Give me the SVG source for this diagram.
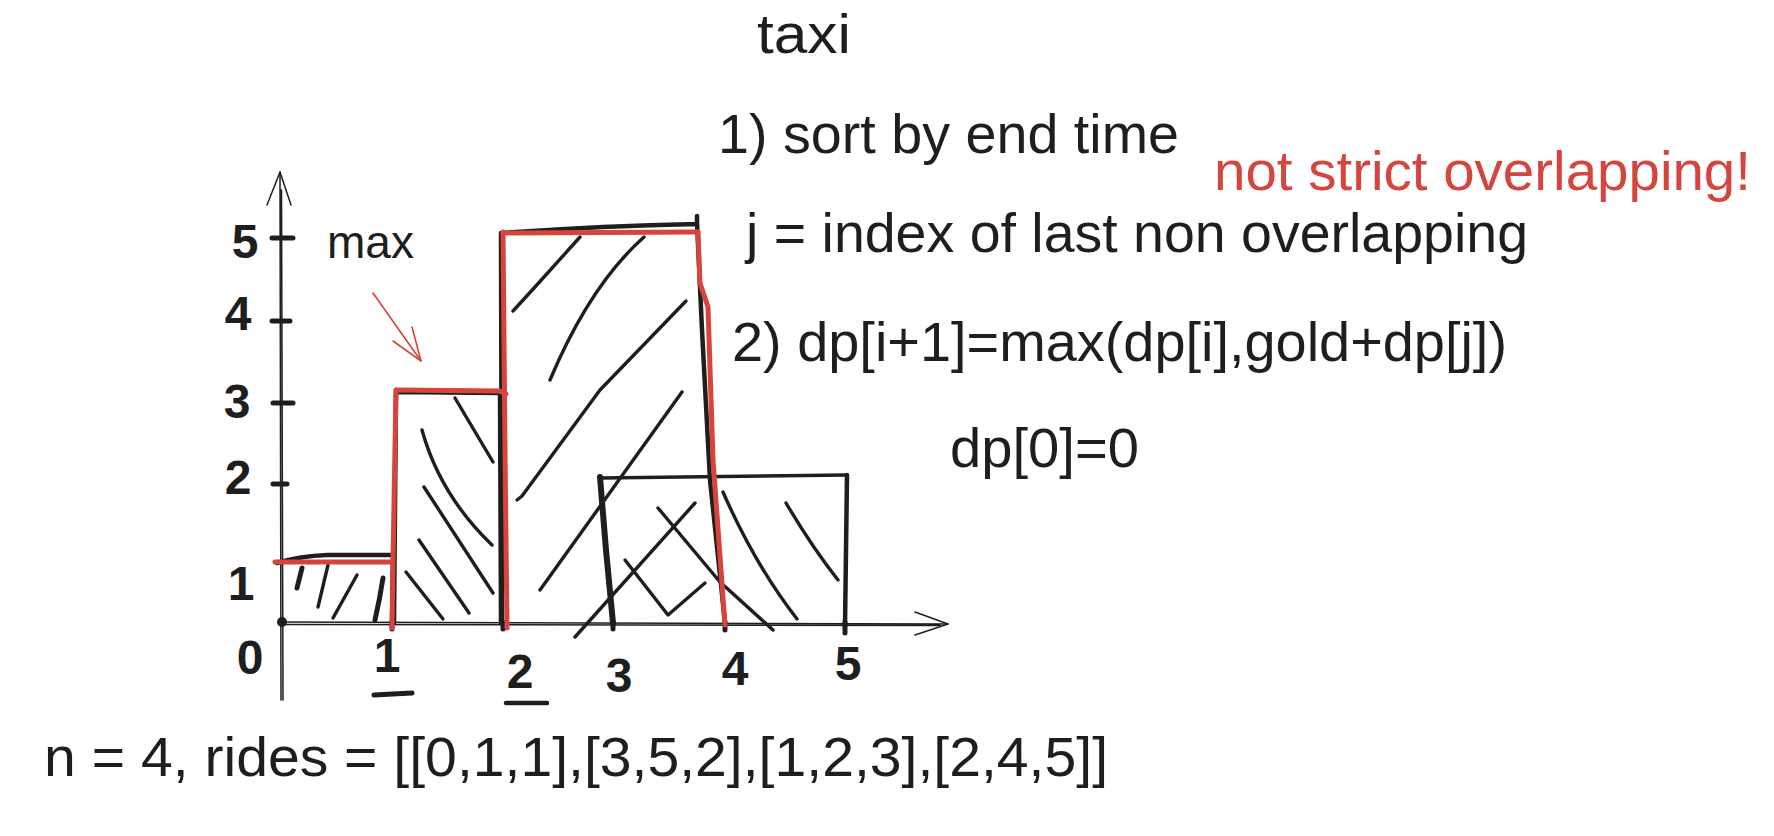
<svg xmlns="http://www.w3.org/2000/svg" width="1774" height="836" viewBox="0 0 1774 836">
<style>
.t{font-family:"Liberation Sans",Arial,sans-serif;fill:#1e1e1e;font-size:56px}
.n{font-family:"Liberation Sans",Arial,sans-serif;fill:#1e1e1e;font-size:48px;font-weight:bold;text-anchor:middle}
.ax{fill:none;stroke:#1e1e1e;stroke-width:1.5;stroke-linecap:round;stroke-linejoin:round}
.tk{fill:none;stroke:#1e1e1e;stroke-width:5;stroke-linecap:round}
.bx{fill:none;stroke:#1e1e1e;stroke-width:4.5;stroke-linecap:round;stroke-linejoin:round}
.h{fill:none;stroke:#1e1e1e;stroke-width:3.4;stroke-linecap:round;stroke-linejoin:round}
.hb{fill:none;stroke:#1e1e1e;stroke-width:5;stroke-linecap:round;stroke-linejoin:round}
.r{fill:none;stroke:#d6453d;stroke-width:5;stroke-linecap:round;stroke-linejoin:round}
.ra{fill:none;stroke:#d6453d;stroke-width:1.6;stroke-linecap:round;stroke-linejoin:round}
</style>
<rect width="1774" height="836" fill="#ffffff"/>

<g id="axes">
  <path class="ax" d="M281 700 L280 172 M283 700 L281.5 190"/>
  <path class="ax" d="M267 205 L280 172 L291 205"/>
  <path class="ax" d="M282 622 L948 624 M282 624.5 L940 625.5"/>
  <path class="ax" d="M915 612 L948 624 L915 635"/>
  <circle cx="282" cy="622" r="5" fill="#1e1e1e"/>
  <path class="tk" d="M272 238 L293 238 M272 321 L290 321 M273 403 L293 403 M273 484 L287 484"/>
  <path class="tk" d="M392 622 L392 629 M503 622 L503 629 M613 622 L613 629 M725 622 L725 630 M845 622 L845 633"/>
  <text class="n" x="245" y="258">5</text>
  <text class="n" x="238" y="330">4</text>
  <text class="n" x="237" y="418">3</text>
  <text class="n" x="238" y="494">2</text>
  <text class="n" x="241" y="600">1</text>
  <text class="n" x="250" y="674">0</text>
  <text class="n" x="387" y="672">1</text>
  <text class="n" x="520" y="688">2</text>
  <text class="n" x="619" y="692">3</text>
  <text class="n" x="735" y="685">4</text>
  <text class="n" x="848" y="680">5</text>
  <path class="hb" d="M374 695 L412 693"/>
  <path class="h" d="M506 703 L547 703" style="stroke-width:4.5"/>
</g>

<g id="ride-0-1">
  <path class="bx" d="M277 563 Q300 556 327 555 L393 555 L392 623"/>
  <path class="hb" d="M302 568 L297 588"/>
  <path class="h" d="M328 565 L318 607"/>
  <path class="h" d="M357 575 L333 618"/>
  <path class="hb" d="M383 578 Q380 598 375 620"/>
</g>

<g id="ride-1-2">
  <path class="bx" d="M396 392 L500 393 L501 623 M396 392 L394 623"/>
  <path class="h" d="M455 398 L493 462"/>
  <path class="h" d="M422 430 Q440 495 492 545"/>
  <path class="h" d="M424 487 L493 593"/>
  <path class="h" d="M419 540 L469 613"/>
  <path class="h" d="M406 572 L443 619"/>
</g>

<g id="ride-2-4">
  <path class="bx" d="M502 233 Q600 226 697 224 L697 216 M697 222 L702 330 L710 480 L725 623 M501 233 L502 623"/>
  <path class="h" d="M580 237 L535 287 L513 311"/>
  <path class="h" d="M644 237 Q590 285 550 380"/>
  <path class="h" d="M686 301 L600 390 L522 496 L517 500"/>
  <path class="h" d="M682 392 L540 590"/>
</g>

<g id="ride-3-5">
  <path class="hb" d="M600 477 L606 550 L613 623" style="stroke-width:6"/>
  <path class="h" d="M600 478 L847 475"/>
  <path class="bx" d="M847 475 L845 627"/>
  <path class="h" d="M695 503 L575 637"/>
  <path class="h" d="M658 508 L720 582 L773 630"/>
  <path class="h" d="M625 560 L668 615 L705 583"/>
  <path class="h" d="M723 492 Q755 565 797 619"/>
  <path class="h" d="M786 503 Q812 547 838 580"/>
</g>

<g id="max-envelope">
  <path class="r" d="M275 562 L392 562"/>
  <path class="r" d="M396 390 L393 562 L392 628"/>
  <path class="r" d="M396 390 L500 391 L506 394"/>
  <path class="r" d="M503 232 L505 450 L507 628"/>
  <path class="r" d="M503 233 L698 232"/>
  <path class="r" d="M698 232 L700 283 L708 307 L713 460 L725 625"/>
</g>

<g id="texts">
  <text class="t" x="757" y="53" textLength="94" lengthAdjust="spacingAndGlyphs">taxi</text>
  <text class="t" x="718" y="153" textLength="461" lengthAdjust="spacingAndGlyphs">1) sort by end time</text>
  <text class="t" x="1214" y="190" textLength="537" lengthAdjust="spacingAndGlyphs" style="fill:#d6453d">not strict overlapping!</text>
  <text class="t" x="746" y="252" textLength="782" lengthAdjust="spacingAndGlyphs">j = index of last non overlapping</text>
  <text class="t" x="732" y="361" textLength="775" lengthAdjust="spacingAndGlyphs">2) dp[i+1]=max(dp[i],gold+dp[j])</text>
  <text class="t" x="950" y="467" textLength="189" lengthAdjust="spacingAndGlyphs">dp[0]=0</text>
  <text class="t" x="327" y="258" textLength="87" lengthAdjust="spacingAndGlyphs" style="font-size:46px">max</text>
  <text class="t" x="44" y="776" textLength="1064" lengthAdjust="spacingAndGlyphs">n = 4, rides = [[0,1,1],[3,5,2],[1,2,3],[2,4,5]]</text>
</g>

<g id="connectors">
  <path class="ra" d="M373 293 L421 361"/>
  <path class="ra" d="M393 341 L421 361 L412 327"/>
</g>
</svg>
